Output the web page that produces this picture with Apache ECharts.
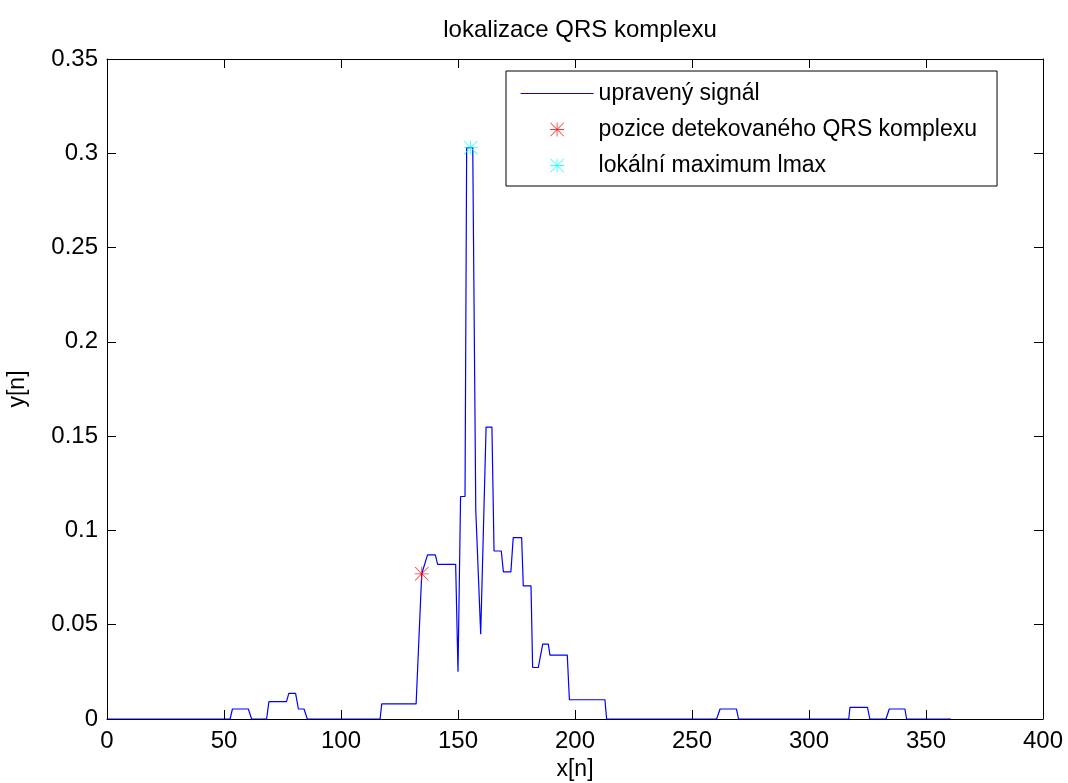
<!DOCTYPE html>
<html>
<head>
<meta charset="utf-8">
<script src="https://cdn.jsdelivr.net/npm/echarts@6/dist/echarts.min.js"></script>
<style>html,body{margin:0;padding:0;background:#fff}#c{width:1068px;height:783px}</style>
</head>
<body>
<div id="c"></div>
<script>
// vertices of the signal polyline (x index, value)
const signalX = [0, 52.6, 53.6, 60.4, 61.8, 68.2, 69.2, 76.7, 77.7, 80.6, 81.8, 84.2, 85.6,
  116.7, 117.4, 132.1, 134.5, 137, 140.3, 141.3, 149, 150, 151.1, 153, 153.7, 156.3, 157.6, 158.3,
  159.7, 160.4, 162, 164.5, 165.4, 168.5, 169.4, 172.6, 173.6, 177.2, 177.9, 181.2, 181.9,
  184.3, 186.2, 188.6, 189.3, 196.7, 197.6, 212.8, 213.5, 260.5, 262, 269, 269.9,
  317, 317.5, 325, 326, 332.9, 334.3, 341, 341.7, 360.7];
const signalY = [0, 0, 0.0053, 0.0053, 0, 0, 0.0092, 0.0092, 0.0136, 0.0136, 0.0053, 0.0053, 0,
  0, 0.008, 0.008, 0.077, 0.087, 0.087, 0.082, 0.082, 0.025, 0.118, 0.118, 0.303, 0.303, 0.1107, 0.1107,
  0.045, 0.045, 0.1548, 0.1548, 0.0891, 0.0891, 0.078, 0.078, 0.0962, 0.0962, 0.0706, 0.0706, 0.0273,
  0.0273, 0.0397, 0.0397, 0.0339, 0.0339, 0.0102, 0.0102, 0, 0, 0.0053, 0.0053, 0,
  0, 0.0062, 0.0062, 0, 0, 0.0053, 0.0053, 0, 0];
const qrsPos = [134.5, 0.077];
const localMax = [155.4, 0.303];
const seriesNames = ['upravený signál', 'pozice detekovaného QRS komplexu', 'lokální maximum lmax'];
const titleText = 'lokalizace QRS komplexu';
const xName = 'x[n]';
const yName = 'y[n]';

const star = 'path://M9.4 0 H10.6 V20 H9.4 Z M0 9.4 H20 V10.6 H0 Z M0.8 0 L20 19.2 L19.2 20 L0 0.8 Z M19.2 0 L20 0.8 L0.8 20 L0 19.2 Z';
const FONT = 'Liberation Sans, Arial, sans-serif';
const lineData = signalX.map((x, i) => [x, signalY[i]]);

const chart = echarts.init(document.getElementById('c'), null, {renderer: 'canvas'});
const axisCommon = {
  axisLine: {show: true, onZero: false, lineStyle: {color: '#000', width: 1}},
  axisTick: {show: true, inside: true, length: 9, lineStyle: {color: '#000'}},
  splitLine: {show: false},
};
chart.setOption({
  animation: false,
  backgroundColor: '#fff',
  color: ['#0000ff', '#ff0000', '#00ffff'],
  title: {
    text: titleText, left: 575, top: 13, textAlign: 'center',
    textStyle: {fontFamily: FONT, fontSize: 24, fontWeight: 'normal', color: '#000'}
  },
  grid: {left: 107, top: 59, right: 25, bottom: 64, outerBoundsMode: 'none', containLabel: false},
  legend: {
    orient: 'vertical', left: 506, top: 71,
    padding: [11, 20, 9, 14],
    itemGap: 13, itemWidth: 73, itemHeight: 14,
    borderColor: '#000', borderWidth: 1, backgroundColor: '#fff',
    textStyle: {fontFamily: FONT, fontSize: 23, color: '#000', lineHeight: 23},
    data: [
      {name: seriesNames[0], itemStyle: {color: '#0000ff', opacity: 0, borderWidth: 0},
       lineStyle: {color: '#0000ff', width: 1.2, opacity: 1, type: 'solid'}},
      {name: seriesNames[1], icon: star, itemStyle: {color: '#ff0000'}},
      {name: seriesNames[2], icon: star, itemStyle: {color: '#00ffff'}}
    ]
  },
  xAxis: [
    Object.assign({
      type: 'value', min: 0, max: 400, interval: 50, position: 'bottom',
      name: xName, nameLocation: 'middle', nameGap: 39,
      nameTextStyle: {fontFamily: FONT, fontSize: 23, color: '#000'},
      axisLabel: {fontFamily: FONT, fontSize: 24, color: '#000', margin: 10}
    }, axisCommon),
    Object.assign({
      type: 'value', min: 0, max: 400, interval: 50, position: 'top',
      axisLabel: {show: false}
    }, axisCommon)
  ],
  yAxis: [
    Object.assign({
      type: 'value', min: 0, max: 0.35, interval: 0.05, position: 'left',
      name: yName, nameLocation: 'middle', nameGap: 78, nameRotate: 90,
      nameTextStyle: {fontFamily: FONT, fontSize: 23, color: '#000'},
      axisLabel: {fontFamily: FONT, fontSize: 24, color: '#000', margin: 9}
    }, axisCommon),
    Object.assign({
      type: 'value', min: 0, max: 0.35, interval: 0.05, position: 'right',
      axisLabel: {show: false}
    }, axisCommon)
  ],
  series: [
    {
      name: seriesNames[0], type: 'line', data: lineData, showSymbol: false, symbol: 'none',
      color: '#0000ff',
      lineStyle: {color: '#0000ff', width: 1.2}, itemStyle: {color: '#0000ff'}, z: 3
    },
    {
      name: seriesNames[1], type: 'scatter', data: [qrsPos], symbol: star, symbolSize: 14,
      itemStyle: {color: '#ff0000'}, z: 4
    },
    {
      name: seriesNames[2], type: 'scatter', data: [localMax], symbol: star, symbolSize: 14,
      itemStyle: {color: '#00ffff'}, z: 4
    }
  ]
});
</script>
</body>
</html>
